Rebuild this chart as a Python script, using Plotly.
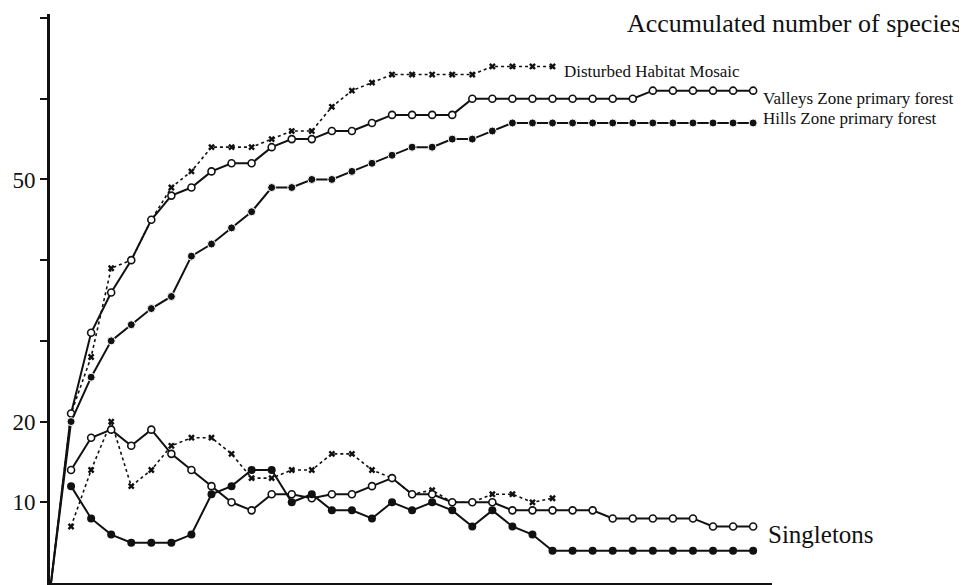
import plotly.graph_objects as go

# ---- data (sample index 0..35) ----
hills_acc = [0, 20, 25.5, 30, 32, 34, 35.5, 40.5, 42, 44, 46, 49, 49, 50, 50, 51, 52, 53, 54, 54,
             55, 55, 56, 57, 57, 57, 57, 57, 57, 57, 57, 57, 57, 57, 57, 57]
valleys_acc = [0, 21, 31, 36, 40, 45, 48, 49, 51, 52, 52, 54, 55, 55, 56, 56, 57, 58, 58, 58,
               58, 60, 60, 60, 60, 60, 60, 60, 60, 60, 61, 61, 61, 61, 61, 61]
disturbed_acc = [0, 21, 28, 39, 40, 45, 49, 51, 54, 54, 54, 55, 56, 56, 59, 61, 62, 63, 63, 63,
                 63, 63, 64, 64, 64, 64]

hills_single = [12, 8, 6, 5, 5, 5, 6, 11, 12, 14, 14, 10, 11, 9, 9, 8, 10, 9, 10, 9,
                7, 9, 7, 6, 4, 4, 4, 4, 4, 4, 4, 4, 4, 4, 4]
valleys_single = [14, 18, 19, 17, 19, 16, 14, 12, 10, 9, 11, 11, 10.5, 11, 11, 12, 13, 11, 11, 10,
                  10, 10, 9, 9, 9, 9, 9, 8, 8, 8, 8, 8, 7, 7, 7]
disturbed_single = [7, 14, 20, 12, 14, 17, 18, 18, 16, 13, 13, 14, 14, 16, 16, 14, 13, 11, 11.5, 10,
                    10, 11, 11, 10, 10.5]

y_tickvals = [10, 20, 30, 40, 50, 60, 70]
y_ticktext = ["10", "20", "", "", "50", "", ""]

label_title = "Accumulated number of species"
label_dist = "Disturbed Habitat Mosaic"
label_valleys = "Valleys Zone primary forest"
label_hills = "Hills Zone primary forest"
label_single = "Singletons"

FONT = "Liberation Serif, Times New Roman, serif"
BLACK = "#111111"

fig = go.Figure()


def acc_sizes(vals, s):
    return [0] + [s] * (len(vals) - 1)


# Disturbed (dotted, x markers)
fig.add_trace(go.Scatter(
    x=list(range(len(disturbed_acc))), y=disturbed_acc, mode="lines+markers",
    line=dict(color=BLACK, width=1.6, dash="dot"),
    marker=dict(symbol="x", size=acc_sizes(disturbed_acc, 6), color=BLACK, opacity=1,
                line=dict(width=0)),
    showlegend=False))
fig.add_trace(go.Scatter(
    x=list(range(1, len(disturbed_single) + 1)), y=disturbed_single, mode="lines+markers",
    line=dict(color=BLACK, width=1.6, dash="dot"),
    marker=dict(symbol="x", size=6, color=BLACK, opacity=1, line=dict(width=0)),
    showlegend=False))

# Valleys (solid, open circles)
fig.add_trace(go.Scatter(
    x=list(range(len(valleys_acc))), y=valleys_acc, mode="lines+markers",
    line=dict(color=BLACK, width=2),
    marker=dict(symbol="circle", size=acc_sizes(valleys_acc, 7), color="white", opacity=1,
                line=dict(color=BLACK, width=1.6)),
    showlegend=False))
fig.add_trace(go.Scatter(
    x=list(range(1, len(valleys_single) + 1)), y=valleys_single, mode="lines+markers",
    line=dict(color=BLACK, width=2),
    marker=dict(symbol="circle", size=7, color="white", opacity=1,
                line=dict(color=BLACK, width=1.6)),
    showlegend=False))

# Hills (solid, filled circles)
fig.add_trace(go.Scatter(
    x=list(range(len(hills_acc))), y=hills_acc, mode="lines+markers",
    line=dict(color=BLACK, width=2),
    marker=dict(symbol="circle", size=acc_sizes(hills_acc, 8), color=BLACK, opacity=1),
    showlegend=False))
fig.add_trace(go.Scatter(
    x=list(range(1, len(hills_single) + 1)), y=hills_single, mode="lines+markers",
    line=dict(color=BLACK, width=2),
    marker=dict(symbol="circle", size=8, color=BLACK, opacity=1),
    showlegend=False))

annotations = [
    dict(text=label_title, xref="paper", yref="paper", x=1.2645, y=0.984,
         xanchor="right", yanchor="middle", showarrow=False,
         font=dict(family=FONT, size=26, color=BLACK)),
    dict(text=label_dist, xref="x", yref="y", x=len(disturbed_acc) - 1, y=disturbed_acc[-1],
         xanchor="left", yanchor="middle", xshift=9, yshift=-5, showarrow=False,
         font=dict(family=FONT, size=17, color=BLACK)),
    dict(text=label_valleys, xref="x", yref="y", x=len(valleys_acc) - 1, y=valleys_acc[-1],
         xanchor="left", yanchor="middle", xshift=8, yshift=-8, showarrow=False,
         font=dict(family=FONT, size=17, color=BLACK)),
    dict(text=label_hills, xref="x", yref="y", x=len(hills_acc) - 1, y=hills_acc[-1],
         xanchor="left", yanchor="middle", xshift=8, yshift=4, showarrow=False,
         font=dict(family=FONT, size=17, color=BLACK)),
    dict(text=label_single, xref="x", yref="y", x=len(hills_single),
         y=(hills_single[-1] + valleys_single[-1]) / 2,
         xanchor="left", yanchor="middle", xshift=13, yshift=4, showarrow=False,
         font=dict(family=FONT, size=25, color=BLACK)),
]

# the page body adds an 8px offset, so the figure is laid out 8px up/left
fig.update_layout(
    width=959, height=577,
    margin=dict(l=42, r=195, t=6, b=2, autoexpand=False),
    paper_bgcolor="white", plot_bgcolor="white",
    annotations=annotations,
    xaxis=dict(range=[-0.05, 35.94], showgrid=False, zeroline=False, showline=True,
               linecolor=BLACK, linewidth=2, showticklabels=False, ticks=""),
    yaxis=dict(range=[0, 70.5], showgrid=False, zeroline=False, showline=True,
               linecolor=BLACK, linewidth=3, ticks="outside", ticklen=7, tickwidth=2,
               tickcolor=BLACK, tickvals=y_tickvals, ticktext=y_ticktext,
               tickfont=dict(family=FONT, size=23, color=BLACK)),
)

fig.write_html("out.html")
